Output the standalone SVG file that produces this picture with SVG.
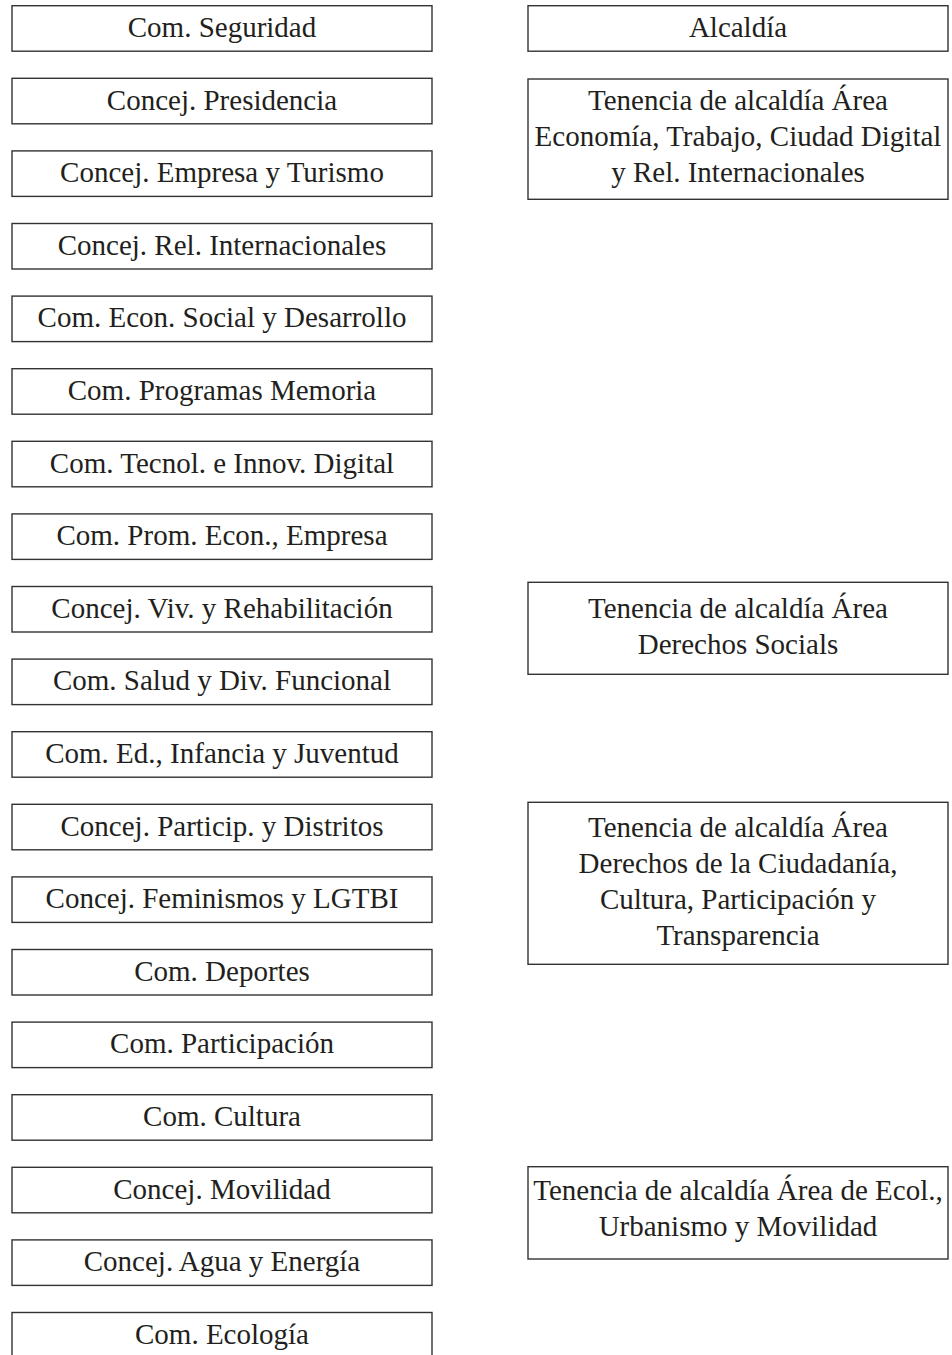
<svg xmlns="http://www.w3.org/2000/svg" width="952" height="1355" viewBox="0 0 952 1355">
<style>
rect.b{fill:#fff;stroke:#333;stroke-width:1.4}
text{font-family:"Liberation Serif","Times New Roman",serif;font-size:29px;fill:#231f20;text-anchor:middle}
</style>
<rect width="952" height="1355" fill="#fff"/>
<g id="connectors"></g>
<g id="n0"><rect class="b" x="12" y="5.7" width="420" height="45.5"/><text x="222" y="37">Com. Seguridad</text></g>
<g id="n1"><rect class="b" x="12" y="78.3" width="420" height="45.5"/><text x="222" y="109.6">Concej. Presidencia</text></g>
<g id="n2"><rect class="b" x="12" y="150.9" width="420" height="45.5"/><text x="222" y="182.2">Concej. Empresa y Turismo</text></g>
<g id="n3"><rect class="b" x="12" y="223.5" width="420" height="45.5"/><text x="222" y="254.8">Concej. Rel. Internacionales</text></g>
<g id="n4"><rect class="b" x="12" y="296.1" width="420" height="45.5"/><text x="222" y="327.4">Com. Econ. Social y Desarrollo</text></g>
<g id="n5"><rect class="b" x="12" y="368.7" width="420" height="45.5"/><text x="222" y="400">Com. Programas Memoria</text></g>
<g id="n6"><rect class="b" x="12" y="441.3" width="420" height="45.5"/><text x="222" y="472.6">Com. Tecnol. e Innov. Digital</text></g>
<g id="n7"><rect class="b" x="12" y="513.9" width="420" height="45.5"/><text x="222" y="545.2">Com. Prom. Econ., Empresa</text></g>
<g id="n8"><rect class="b" x="12" y="586.5" width="420" height="45.5"/><text x="222" y="617.8">Concej. Viv. y Rehabilitación</text></g>
<g id="n9"><rect class="b" x="12" y="659.1" width="420" height="45.5"/><text x="222" y="690.4">Com. Salud y Div. Funcional</text></g>
<g id="n10"><rect class="b" x="12" y="731.7" width="420" height="45.5"/><text x="222" y="763">Com. Ed., Infancia y Juventud</text></g>
<g id="n11"><rect class="b" x="12" y="804.3" width="420" height="45.5"/><text x="222" y="835.6">Concej. Particip. y Distritos</text></g>
<g id="n12"><rect class="b" x="12" y="876.9" width="420" height="45.5"/><text x="222" y="908.2">Concej. Feminismos y LGTBI</text></g>
<g id="n13"><rect class="b" x="12" y="949.5" width="420" height="45.5"/><text x="222" y="980.8">Com. Deportes</text></g>
<g id="n14"><rect class="b" x="12" y="1022.1" width="420" height="45.5"/><text x="222" y="1053.4">Com. Participación</text></g>
<g id="n15"><rect class="b" x="12" y="1094.7" width="420" height="45.5"/><text x="222" y="1126">Com. Cultura</text></g>
<g id="n16"><rect class="b" x="12" y="1167.3" width="420" height="45.5"/><text x="222" y="1198.6">Concej. Movilidad</text></g>
<g id="n17"><rect class="b" x="12" y="1239.9" width="420" height="45.5"/><text x="222" y="1271.2">Concej. Agua y Energía</text></g>
<g id="n18"><rect class="b" x="12" y="1312.5" width="420" height="60"/><text x="222" y="1343.8">Com. Ecología</text></g>
<g id="r0"><rect class="b" x="528" y="5.7" width="420" height="45.5"/><text x="738" y="37">Alcaldía</text></g>
<g id="r1"><rect class="b" x="528" y="79" width="420" height="120.3"/><text x="738" y="110">Tenencia de alcaldía Área</text><text x="738" y="146">Economía, Trabajo, Ciudad Digital</text><text x="738" y="182">y Rel. Internacionales</text></g>
<g id="r2"><rect class="b" x="528" y="582.3" width="420" height="92"/><text x="738" y="618">Tenencia de alcaldía Área</text><text x="738" y="654">Derechos Socials</text></g>
<g id="r3"><rect class="b" x="528" y="802.3" width="420" height="162"/><text x="738" y="837">Tenencia de alcaldía Área</text><text x="738" y="873">Derechos de la Ciudadanía,</text><text x="738" y="909">Cultura, Participación y</text><text x="738" y="945">Transparencia</text></g>
<g id="r4"><rect class="b" x="528" y="1166.7" width="420" height="92.3"/><text x="738" y="1200">Tenencia de alcaldía Área de Ecol.,</text><text x="738" y="1236">Urbanismo y Movilidad</text></g>
</svg>
